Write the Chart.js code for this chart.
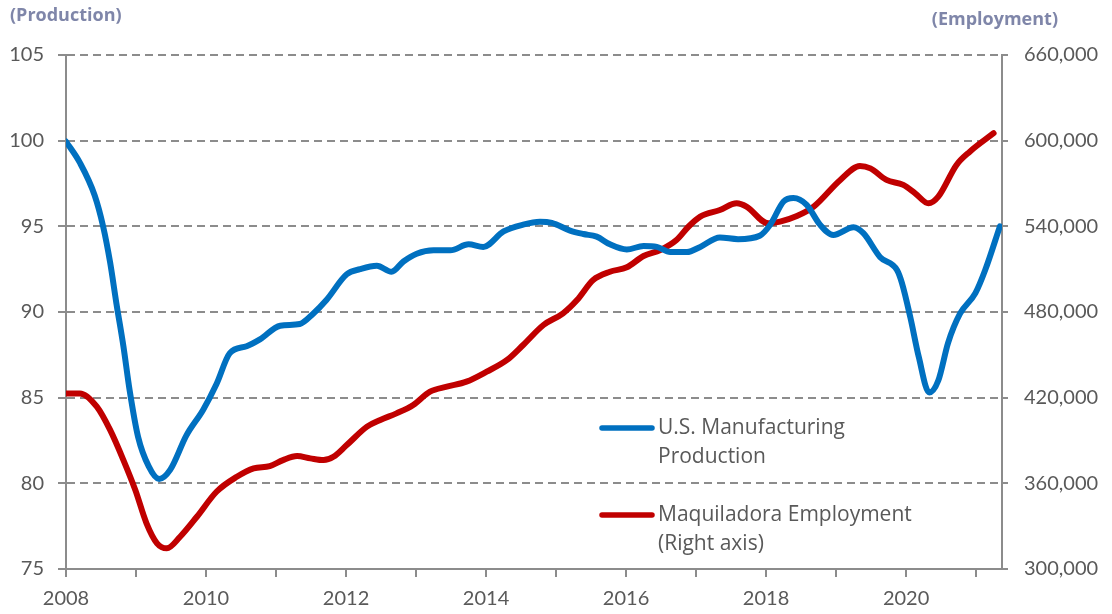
<!DOCTYPE html>
<html>
<head>
<meta charset="utf-8">
<script src="https://cdn.jsdelivr.net/npm/chart.js@4.4.1/dist/chart.umd.min.js"></script>
<style>
  html, body { margin: 0; padding: 0; background: #ffffff; }
  #wrap { position: relative; width: 1112px; height: 614px; }
  canvas { display: block; }
</style>
</head>
<body>
<div id="wrap"><canvas id="c" width="1112" height="614"></canvas></div>
<script>
// ---- Data ----
const prodLabel = "U.S. Manufacturing Production";
const empLabel = "Maquiladora Employment (Right axis)";
const leftTitle = "(Production)";
const rightTitle = "(Employment)";

const prodYears = [2008.0, 2008.2, 2008.41, 2008.53, 2008.63, 2008.72, 2008.82, 2008.91, 2009.03, 2009.18,
  2009.33, 2009.49, 2009.72, 2009.96, 2010.15, 2010.34, 2010.58, 2010.77, 2011.06, 2011.34,
  2011.53, 2011.72, 2012.01, 2012.2, 2012.44, 2012.65, 2012.82, 2013.01, 2013.25, 2013.49,
  2013.75, 2013.96, 2014.25, 2014.53, 2014.77, 2014.94, 2015.2, 2015.39, 2015.58, 2015.77,
  2016.01, 2016.25, 2016.44, 2016.63, 2016.87, 2017.06, 2017.34, 2017.6, 2017.91, 2018.06,
  2018.25, 2018.39, 2018.58, 2018.77, 2018.96, 2019.25, 2019.39, 2019.63, 2019.87, 2019.94,
  2020.06, 2020.18, 2020.33, 2020.46, 2020.6, 2020.77, 2020.99, 2021.13, 2021.34];
const prodValues = [99.95, 98.7, 96.8, 95.0, 92.9, 90.5, 88.0, 85.4, 82.7, 81.0,
  80.25, 80.8, 82.8, 84.3, 85.8, 87.6, 88.0, 88.4, 89.2, 89.3,
  89.9, 90.7, 92.2, 92.5, 92.7, 92.35, 92.95, 93.4, 93.6, 93.6,
  93.95, 93.8, 94.7, 95.1, 95.27, 95.2, 94.75, 94.55, 94.4, 93.95,
  93.65, 93.85, 93.8, 93.5, 93.5, 93.8, 94.35, 94.25, 94.45, 95.1,
  96.45, 96.65, 96.25, 95.1, 94.5, 94.95, 94.6, 93.2, 92.45, 91.7,
  89.7, 87.4, 85.3, 86.0, 88.2, 89.9, 91.1, 92.45, 95.0];

const empYears = [2008.0, 2008.2, 2008.44, 2008.63, 2008.82, 2008.99, 2009.15, 2009.3, 2009.44, 2009.63,
  2009.87, 2010.15, 2010.44, 2010.68, 2010.91, 2011.1, 2011.3, 2011.49, 2011.68, 2011.82,
  2012.01, 2012.3, 2012.49, 2012.72, 2012.96, 2013.2, 2013.44, 2013.72, 2014.01, 2014.3,
  2014.53, 2014.82, 2015.1, 2015.3, 2015.53, 2015.77, 2016.01, 2016.25, 2016.49, 2016.72,
  2016.89, 2017.06, 2017.34, 2017.58, 2017.72, 2018.03, 2018.2, 2018.44, 2018.68, 2019.06,
  2019.34, 2019.49, 2019.72, 2019.96, 2020.13, 2020.32, 2020.46, 2020.72, 2020.91, 2021.25];
const empValues = [423000, 423000, 413700, 397400, 376300, 355300, 332000, 318000, 314500, 322600,
  336600, 354100, 364600, 370500, 372100, 376300, 379100, 377500, 376300, 378600,
  386800, 399700, 404400, 409000, 414900, 424200, 427700, 431200, 438200, 446400,
  456900, 470900, 479100, 488400, 502400, 508200, 511300, 519200, 523400, 530400,
  539700, 546800, 551400, 556100, 553800, 542100, 543300, 547200, 553800, 572500,
  582300, 580600, 572500, 569000, 563100, 556100, 560800, 583000, 592300, 605200];

const xMin = 2008, xMax = 2021.37;
const leftMin = 75, leftMax = 105, leftStep = 5;
const rightMin = 300000, rightMax = 660000, rightStep = 60000;

// ---- Styles ----
const BLUE = '#0070C0';
const RED = '#C00000';
const GRID = '#8c8c8c';
const TXT = '#595959';
const TITLE = '#7f86a9';
const FONT = 'Lato, "Open Sans", sans-serif';
const FONT2 = '"Open Sans", Lato, sans-serif';

const toPts = (xs, ys) => xs.map((x, i) => ({ x: x, y: ys[i] }));

const legendPlugin = {
  id: 'sideLegend',
  afterDraw(chart) {
    const ctx = chart.ctx;
    ctx.save();
    ctx.font = '21px ' + FONT2;
    ctx.fillStyle = TXT;
    ctx.textBaseline = 'middle';
    ctx.lineCap = 'round';
    ctx.lineWidth = 5.5;
    const items = [
      { color: chart.data.datasets[0].borderColor, lines: ['U.S. Manufacturing', 'Production'], y: 428 },
      { color: chart.data.datasets[1].borderColor, lines: ['Maquiladora Employment', '(Right axis)'], y: 515 }
    ];
    items.forEach(it => {
      ctx.strokeStyle = it.color;
      ctx.beginPath();
      ctx.moveTo(602, it.y);
      ctx.lineTo(652, it.y);
      ctx.stroke();
      it.lines.forEach((t, i) => ctx.fillText(t, 658, it.y + i * 29));
    });
    // axis titles
    ctx.font = 'bold 18px ' + FONT2;
    ctx.fillStyle = TITLE;
    ctx.fillText(leftTitle, 10, 16);
    ctx.textAlign = 'right';
    ctx.fillText(rightTitle, 1058, 20);
    ctx.restore();
  }
};

new Chart(document.getElementById('c'), {
  type: 'line',
  data: {
    datasets: [
      {
        label: prodLabel,
        data: toPts(prodYears, prodValues),
        yAxisID: 'yL',
        borderColor: BLUE,
        borderWidth: 6,
        pointRadius: 0,
        cubicInterpolationMode: 'monotone',
        borderCapStyle: 'round',
        borderJoinStyle: 'round',
        fill: false
      },
      {
        label: empLabel,
        data: toPts(empYears, empValues),
        yAxisID: 'yR',
        borderColor: RED,
        borderWidth: 6,
        pointRadius: 0,
        cubicInterpolationMode: 'monotone',
        borderCapStyle: 'round',
        borderJoinStyle: 'round',
        fill: false
      }
    ]
  },
  options: {
    responsive: false,
    animation: false,
    events: [],
    layout: { padding: { top: 55, left: 0, right: 0, bottom: 0 } },
    plugins: { legend: { display: false }, tooltip: { enabled: false } },
    scales: {
      x: {
        type: 'linear',
        min: xMin,
        max: xMax,
        afterFit: s => { s.height = 45; },
        afterBuildTicks: s => {
          const t = [];
          for (let y = 2008; y <= 2021; y++) t.push({ value: y });
          s.ticks = t;
        },
        ticks: {
          autoSkip: false,
          maxRotation: 0,
          padding: 10,
          color: TXT,
          font: { family: FONT, size: 20 },
          callback: v => (v % 2 === 0 ? String(v) : '')
        },
        grid: { drawOnChartArea: false, drawTicks: true, tickLength: 8, color: GRID, lineWidth: 2 },
        border: { display: true, color: GRID, width: 2 }
      },
      yL: {
        position: 'left',
        min: leftMin,
        max: leftMax,
        afterFit: s => { s.width = 66; },
        ticks: {
          stepSize: leftStep,
          padding: 14,
          color: TXT,
          font: { family: FONT, size: 20 }
        },
        grid: { drawOnChartArea: true, drawTicks: true, tickLength: 8, color: GRID, lineWidth: 2, tickBorderDash: [] },
        border: { display: true, color: GRID, width: 2, dash: [8, 5] }
      },
      yR: {
        position: 'right',
        min: rightMin,
        max: rightMax,
        afterFit: s => { s.width = 110; },
        ticks: {
          stepSize: rightStep,
          padding: 16,
          color: TXT,
          font: { family: FONT, size: 20 },
          callback: v => v.toLocaleString('en-US')
        },
        grid: { drawOnChartArea: false, drawTicks: true, tickLength: 6, color: GRID, lineWidth: 2 },
        border: { display: true, color: GRID, width: 2 }
      }
    }
  },
  plugins: [legendPlugin]
});
</script>
</body>
</html>
